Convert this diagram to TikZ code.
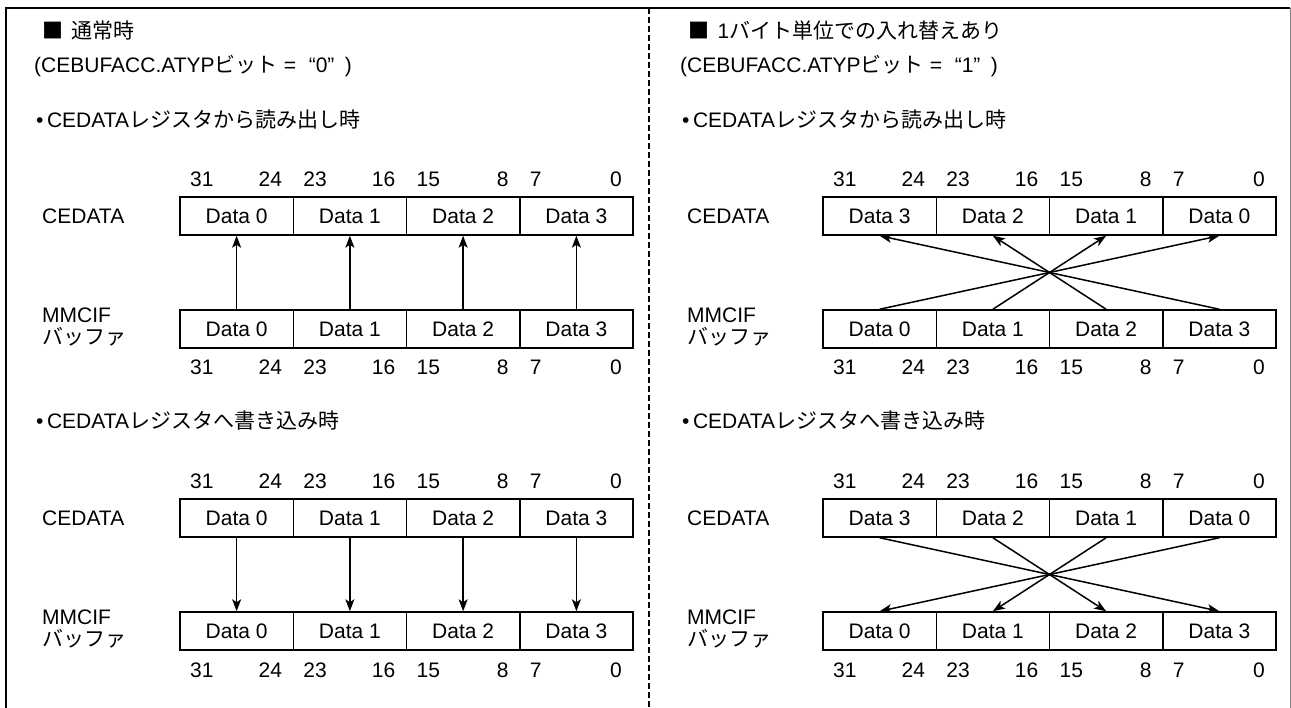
\documentclass[tikz,border=0pt]{standalone}
\usepackage{fontspec}
\setmainfont{Liberation Sans}
\newfontfamily\jp{Noto Sans CJK JP}
\usetikzlibrary{arrows.meta, positioning}
\newcommand{\dsize}{\fontsize{21}{25}\selectfont}
\tikzset{
    cell/.style={draw, line width=1.5pt, minimum width=113.25pt, minimum height=38pt, inner sep=0pt, font=\dsize},
    bitnum/.style={inner sep=0pt, font=\dsize},
    side label/.style={anchor=west, inner sep=0pt, font=\dsize},
    head text/.style={anchor=west, inner sep=0pt, font=\dsize},
    byte arrow/.style={line width=1.5pt, -{Stealth[length=12pt, width=9pt, inset=3pt]}},
    divider/.style={line width=2pt, dash pattern=on 6pt off 3pt},
}
% one 32-bit register row: name prefix, left x, centre y, data numbers
\newcommand{\byterow}[4]{
    \foreach \lab [count=\i from 0] in {#4} {
        \node[cell] (#1\i) at ({#2+113.25*\i+56.625}, #3) {Data \lab};
    }
}
% bit numbers above / below a row: name prefix, left x, y
\newcommand{\bitnums}[3]{
    \foreach \hi/\lo [count=\i from 0] in {31/24, 23/16, 15/8, 7/0} {
        \node[bitnum, anchor=west] (#1hi\i) at ({#2+113.25*\i+10}, #3) {\hi};
        \node[bitnum, anchor=east] (#1lo\i) at ({#2+113.25*(\i+1)-11}, #3) {\lo};
    }
}
\newcommand{\atyp}[1]{(CEBUFACC.ATYP{\jp ビット}\hspace{0.3em}=\hspace{0.6em}“#1”\hspace{0.5em})}

\begin{document}
\begin{tikzpicture}[x=1pt, y=-1pt]
    \useasboundingbox (0,0) rectangle (1291,708);
    % frame
    \draw[line width=2.6pt] (6,708) -- (6,8) -- (1290,8);
    \draw[gray, line width=1pt] (1290,8) -- (1290,708);
    \draw[divider] (649,8) -- (649,708);

    % left: normal
    \node[head text] (hL1) at (42,31) {{\jp ■}\hspace{0.4em}{\jp 通常時}};
    \node[head text] (hL2) at (34,66) {\atyp{0}};
    \node[head text] (rdL) at (36,120) {•\,CEDATA{\jp レジスタから読み出し時}};
    \node[head text] (wrL) at (36,421) {•\,CEDATA{\jp レジスタへ書き込み時}};

    \node[side label] (rcLlab) at (42,216) {CEDATA};
    \node[side label] (rmLlab1) at (42,315) {MMCIF};
    \node[side label] (rmLlab2) at (42,337) {\jp バッファ};
    \node[side label] (wcLlab) at (42,518) {CEDATA};
    \node[side label] (wmLlab1) at (42,617) {MMCIF};
    \node[side label] (wmLlab2) at (42,639) {\jp バッファ};

    \bitnums{rtL}{180}{179}
    \byterow{rcL}{180}{216}{0,1,2,3}
    \byterow{rmL}{180}{329}{0,1,2,3}
    \bitnums{rbL}{180}{367}
    \bitnums{wtL}{180}{481}
    \byterow{wcL}{180}{518}{0,1,2,3}
    \byterow{wmL}{180}{631}{0,1,2,3}
    \bitnums{wbL}{180}{670}

    \foreach \i in {0,...,3} {
        \draw[byte arrow] (rmL\i.north) -- (rcL\i.south);
        \draw[byte arrow] (wcL\i.south) -- (wmL\i.north);
    }

    % right: byte swap
    \node[head text] (hR1) at (688,31) {{\jp ■}\hspace{0.4em}1{\jp バイト単位での入れ替えあり}};
    \node[head text] (hR2) at (680,66) {\atyp{1}};
    \node[head text] (rdR) at (682,120) {•\,CEDATA{\jp レジスタから読み出し時}};
    \node[head text] (wrR) at (682,421) {•\,CEDATA{\jp レジスタへ書き込み時}};

    \node[side label] (rcRlab) at (687,216) {CEDATA};
    \node[side label] (rmRlab1) at (687,315) {MMCIF};
    \node[side label] (rmRlab2) at (687,337) {\jp バッファ};
    \node[side label] (wcRlab) at (687,518) {CEDATA};
    \node[side label] (wmRlab1) at (687,617) {MMCIF};
    \node[side label] (wmRlab2) at (687,639) {\jp バッファ};

    \bitnums{rtR}{823}{179}
    \byterow{rcR}{823}{216}{3,2,1,0}
    \byterow{rmR}{823}{329}{0,1,2,3}
    \bitnums{rbR}{823}{367}
    \bitnums{wtR}{823}{481}
    \byterow{wcR}{823}{518}{3,2,1,0}
    \byterow{wmR}{823}{631}{0,1,2,3}
    \bitnums{wbR}{823}{670}

    \foreach \i [evaluate=\i as \j using {int(3-\i)}] in {0,...,3} {
        \draw[byte arrow] (rmR\i.north) -- (rcR\j.south);
        \draw[byte arrow] (wcR\i.south) -- (wmR\j.north);
    }
\end{tikzpicture}
\end{document}
